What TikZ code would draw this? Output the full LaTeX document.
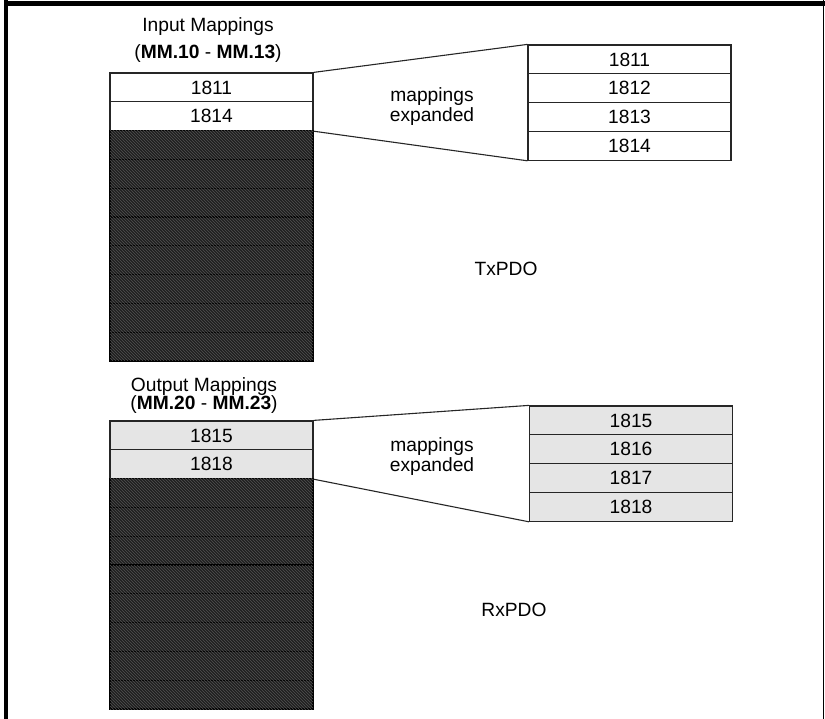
\documentclass[tikz,border=0pt]{standalone}
\usepackage{fontspec}
\setmainfont{Liberation Sans}
\usetikzlibrary{patterns}
\tikzset{
  cell/.style={draw=black!85, line width=1.2pt, minimum width=203pt, minimum height=28.8pt,
    inner sep=0pt, font=\fontsize{19.2}{20}\selectfont},
  incell/.style={cell, fill=white},
  outcell/.style={cell, fill=black!10},
  darkcell/.style={cell, draw=black, fill=black!88, postaction={pattern=north west lines, pattern color=black!68}},
  lbl/.style={font=\fontsize{19.2}{20}\selectfont, align=center},
  link/.style={line width=1.1pt, black!85},
}
\begin{document}
\begin{tikzpicture}[x=1pt, y=-1pt]
	\useasboundingbox (0,0) rectangle (825,719);
	% frame
	\draw [line width=5pt] (4,3.5) -- (825,3.5);
	\draw [line width=4pt] (6,0) -- (6,719);
	\draw [line width=1pt] (823,0) -- (823,719);
	% TxPDO
	\node [lbl] (intitle) at (208,27) {Input Mappings};
	\node [lbl] (inmm) at (208,54) {(\textbf{MM.10} - \textbf{MM.13})};
	\node [incell] (in1) at (211.5,87.4) {1811};
	\node [incell] (in2) at (211.5,116.2) {1814};
	\foreach \k in {1,...,8} \node [darkcell] (ind\k) at (211.5,{116.2+28.8*\k}) {};
	\foreach \n [count=\k] in {1811,1812,1813,1814} \node [incell] (tx\k) at (629.5,{30.6+28.8*\k}) {\n};
	\draw [link] (in1.north east) -- (tx1.north west);
	\draw [link] (in2.south east) -- (tx4.south west);
	\node [lbl] (inexp) at (432,107) {mappings\\expanded};
	\node [lbl] (txpdo) at (506,268.5) {TxPDO};
	% RxPDO
	\node [lbl, font=\fontsize{19.2}{17}\selectfont] (outtitle) at (204,395.5)
		{Output Mappings\\(\textbf{MM.20} - \textbf{MM.23})};
	\node [outcell] (out1) at (211.5,435.4) {1815};
	\node [outcell] (out2) at (211.5,464.2) {1818};
	\foreach \k in {1,...,8} \node [darkcell] (outd\k) at (211.5,{464.2+28.8*\k}) {};
	\foreach \n [count=\k] in {1815,1816,1817,1818} \node [outcell] (rx\k) at (631,{391.6+28.8*\k}) {\n};
	\draw [link] (out1.north east) -- (rx1.north west);
	\draw [link] (out2.south east) -- (rx4.south west);
	\node [lbl] (outexp) at (432,457) {mappings\\expanded};
	\node [lbl] (rxpdo) at (514,609.5) {RxPDO};
\end{tikzpicture}
\end{document}
